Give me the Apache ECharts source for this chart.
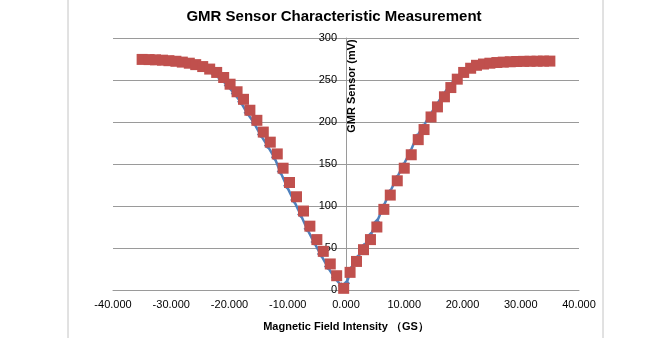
<!DOCTYPE html>
<html>
<head>
<meta charset="utf-8">
<script src="https://cdn.jsdelivr.net/npm/echarts@6/dist/echarts.min.js"></script>
<style>html,body{margin:0;padding:0;background:#fff;}#c{width:668px;height:338px;}</style>
</head>
<body>
<div id="c"></div>
<script>
// Red series (squares): magnetic field (GS) and GMR output (mV)
const fieldRed = [-35.0,-33.8,-32.7,-31.5,-30.4,-29.2,-28.1,-26.9,-25.8,-24.6,-23.4,-22.2,-21.0,-19.9,-18.7,-17.6,-16.5,-15.3,-14.2,-13.0,-11.8,-10.8,-9.7,-8.5,-7.3,-6.2,-5.0,-3.9,-2.7,-1.6,-0.4,
  0.7,1.8,3.0,4.2,5.3,6.5,7.6,8.8,10.0,11.2,12.4,13.4,14.6,15.7,16.9,18.0,19.1,20.2,21.4,22.4,23.6,24.7,25.9,27.0,28.2,29.3,30.5,31.6,32.8,33.9,35.0];
const sensorRed = [274.5,274.3,274.0,273.6,273.0,272.3,271.3,270.0,268.3,266.0,263.0,259.0,253.0,245.0,236.0,227.0,214.0,202.0,188.0,176.0,162.0,145.0,128.0,111.0,94.0,76.0,60.0,46.0,31.0,17.0,2.0,
  21.0,34.0,48.0,60.0,75.0,96.0,113.0,130.0,145.0,161.0,179.0,191.0,206.0,218.0,230.0,241.0,251.0,259.0,264.0,267.5,269.0,270.0,270.8,271.3,271.7,272.0,272.2,272.3,272.4,272.5,272.5];
// Blue series (diamonds + line), mostly hidden under the red squares
const fieldBlue = [-35.0,-33.9,-32.8,-31.7,-30.6,-29.5,-28.4,-27.3,-26.2,-25.0,-23.9,-22.7,-21.5,-20.4,-19.2,-18.1,-17.0,-15.8,-14.7,-13.5,-12.3,-11.3,-10.2,-9.0,-7.8,-6.7,-5.5,-4.4,-3.2,-2.0,-0.8,0.1,
  0.9,2.0,3.1,4.2,5.3,6.4,7.5,8.7,9.8,11.0,12.1,13.2,14.4,15.5,16.6,17.8,18.9,20.0,21.2,22.3,23.4,24.5,25.7,26.8,27.9,29.1,30.2,31.3,32.5,33.6,34.8];
const sensorBlue = [274.3,274.1,273.8,273.4,272.8,272.0,271.0,269.6,267.8,265.2,261.8,257.5,251.5,243.5,234.0,224.0,211.0,199.0,185.0,172.0,158.0,141.0,124.0,107.0,90.0,73.0,57.0,43.0,28.0,15.0,5.0,8.0,
  25.0,38.0,52.0,65.0,81.0,99.0,116.0,133.0,148.0,164.0,182.0,194.0,208.0,220.0,232.0,243.0,252.5,260.0,264.5,267.8,269.2,270.2,271.0,271.4,271.8,272.0,272.2,272.3,272.4,272.5,272.5];

const xMin = -40, xMax = 40, xStep = 10;
const yMin = 0, yMax = 300, yStep = 50;

const titleText = 'GMR Sensor Characteristic Measurement';
const xName = 'Magnetic Field Intensity （GS）';
const yName = 'GMR Sensor (mV)';

const redPts = fieldRed.map((x, i) => [x, sensorRed[i]]);
const bluePts = fieldBlue.map((x, i) => [x, sensorBlue[i]]);

const gridLeft = 113, gridRight = 89;
const plotW = 668 - gridLeft - gridRight;
const zeroOffset = -plotW * (0 - xMin) / (xMax - xMin);

const chart = echarts.init(document.getElementById('c'), null, {renderer: 'canvas'});
const font = 'Liberation Sans, Arial, sans-serif';
chart.setOption({
  animation: false,
  backgroundColor: '#ffffff',
  title: {
    text: titleText, left: 'center', top: 4,
    textStyle: {fontFamily: font, fontSize: 15, fontWeight: 'bold', color: '#000'}
  },
  grid: {left: gridLeft, right: gridRight, top: 38, bottom: 48, containLabel: false},
  xAxis: {
    type: 'value', min: xMin, max: xMax, interval: xStep,
    name: xName, nameLocation: 'middle', nameGap: 31,
    nameTextStyle: {fontFamily: font, fontSize: 11, fontWeight: 'bold', color: '#000'},
    axisLine: {show: true, onZero: false, lineStyle: {color: '#9a9a9a', width: 1}},
    axisTick: {show: false},
    axisLabel: {margin: 9, fontFamily: font, fontSize: 11, color: '#000', formatter: v => v.toFixed(3)},
    splitLine: {show: false}
  },
  yAxis: {
    type: 'value', min: yMin, max: yMax, interval: yStep,
    offset: zeroOffset,
    axisLine: {show: true, onZero: false, lineStyle: {color: '#9a9a9a', width: 1}},
    axisTick: {show: true, length: 4, lineStyle: {color: '#9a9a9a'}},
    axisLabel: {margin: 9, fontFamily: font, fontSize: 11, color: '#000'},
    splitLine: {show: true, lineStyle: {color: '#9a9a9a', width: 1}}
  },
  graphic: [
    {type: 'rect', shape: {x: 68, y: -5, width: 535, height: 350}, style: {fill: 'none', stroke: '#c4c4c4', lineWidth: 1}, z: 0},
    {type: 'text', x: 352, y: 86, rotation: Math.PI / 2,
     style: {text: yName, fontFamily: font, fontSize: 11, fontWeight: 'bold', fill: '#000', align: 'center', verticalAlign: 'middle'}, z: 10}
  ],
  series: [
    {type: 'line', data: bluePts, symbol: 'diamond', symbolSize: 7,
     lineStyle: {color: '#4F81BD', width: 2.5}, itemStyle: {color: '#4F81BD'}, z: 2},
    {type: 'scatter', data: redPts, symbol: 'rect', symbolSize: 11,
     itemStyle: {color: '#C0504D', opacity: 1}, z: 3}
  ]
});
</script>
</body>
</html>
